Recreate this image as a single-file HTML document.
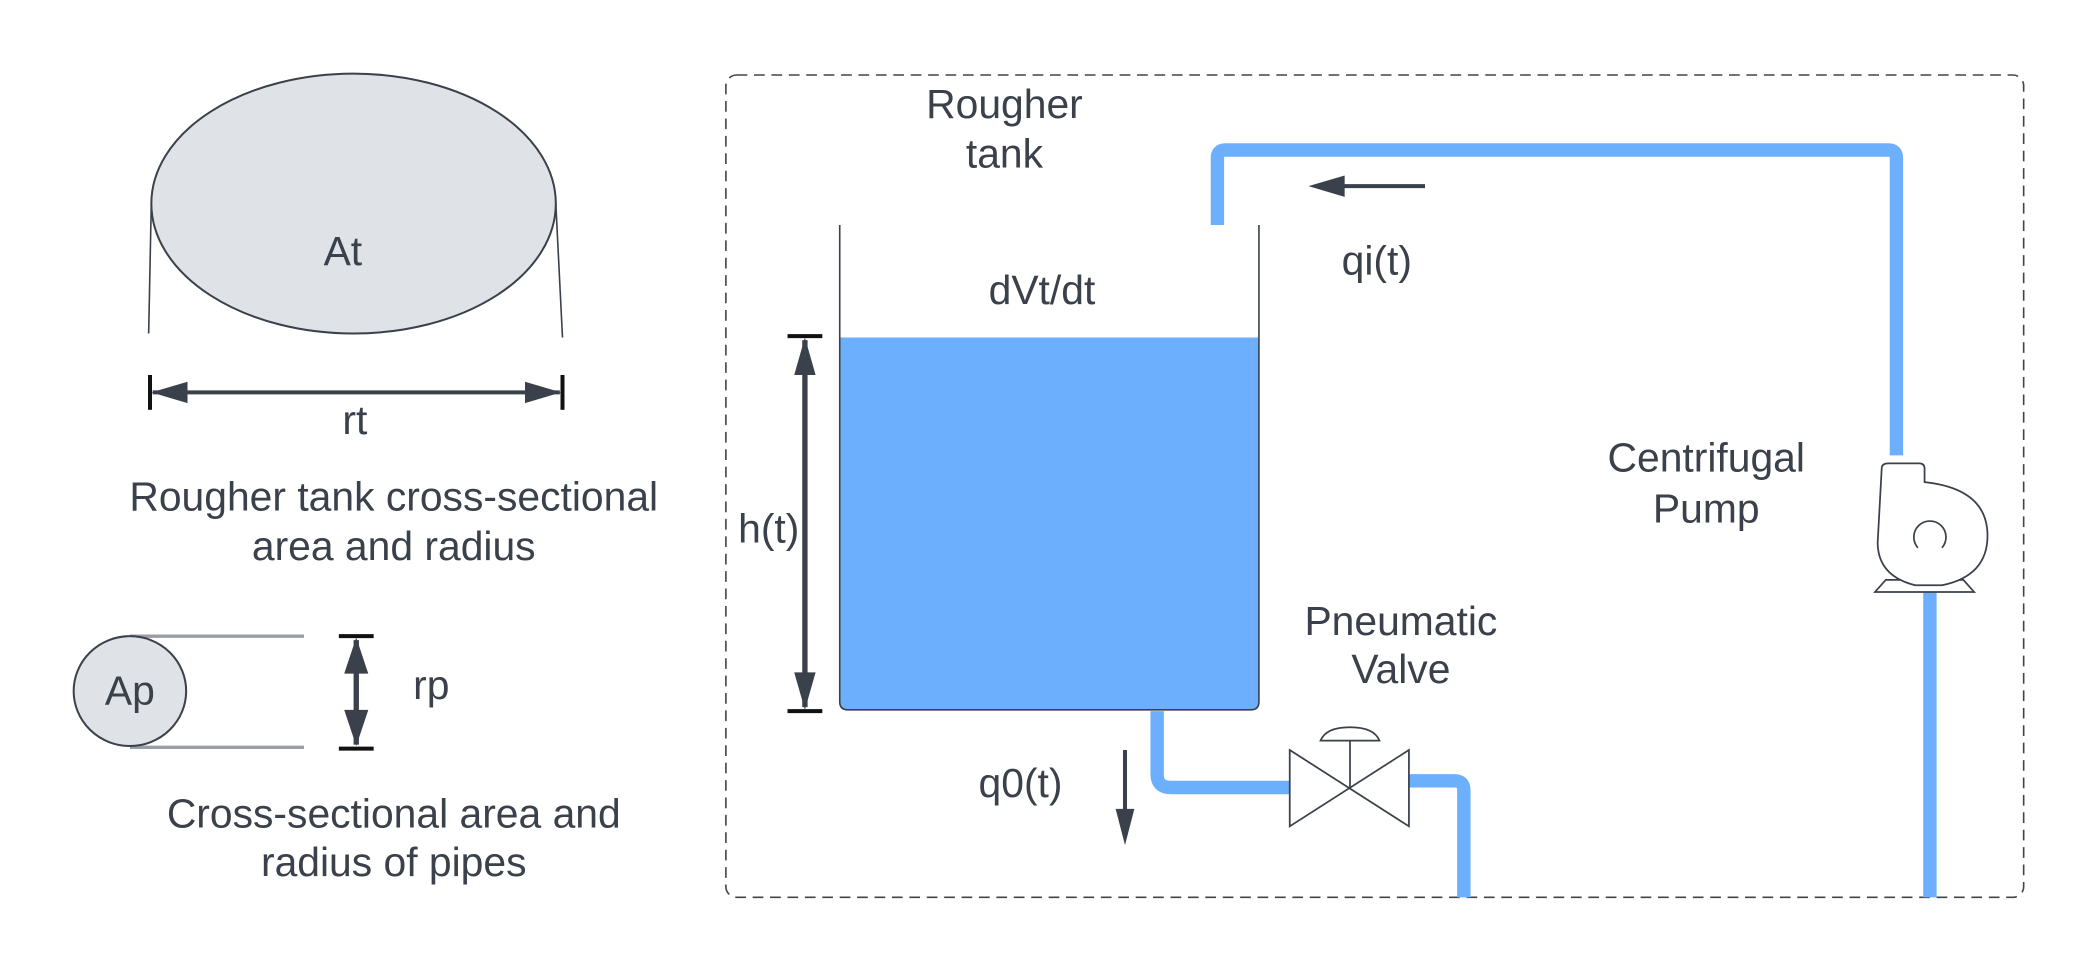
<!DOCTYPE html>
<html><head><meta charset="utf-8"><style>html,body{margin:0;padding:0;background:#fff}svg{display:block}text{font-family:"Liberation Sans",sans-serif;fill:#3a414a;font-size:30.5px}</style></head>
<body>
<svg width="2100" height="975" viewBox="0 0 1568 728" preserveAspectRatio="none">
<g>
<line x1="113" y1="150" x2="111" y2="249" stroke="#3a414a" stroke-width="1.2"/>
<line x1="415" y1="152" x2="420" y2="252" stroke="#3a414a" stroke-width="1.2"/>
<ellipse cx="264" cy="152" rx="151" ry="97" fill="#dfe2e7" stroke="#3a414a" stroke-width="1.5"/>
<text x="256" y="198" text-anchor="middle">At</text>
<line x1="112" y1="280" x2="112" y2="306" stroke="#111" stroke-width="3"/>
<line x1="420" y1="280" x2="420" y2="306" stroke="#111" stroke-width="3"/>
<line x1="114" y1="293" x2="418" y2="293" stroke="#3a414a" stroke-width="3"/>
<path d="M113,293 L140,285 L140,301z M419,293 L392,285 L392,301z" fill="#3a414a"/>
<text x="265" y="324" text-anchor="middle">rt</text>
<text x="294" y="381" text-anchor="middle">Rougher tank cross-sectional</text>
<text x="294" y="418" text-anchor="middle">area and radius</text>
</g>
<g>
<line x1="97" y1="475" x2="227" y2="475" stroke="#9a9da3" stroke-width="2.5"/>
<line x1="97" y1="558" x2="227" y2="558" stroke="#9a9da3" stroke-width="2.5"/>
<ellipse cx="97" cy="516" rx="42" ry="41" fill="#dfe2e7" stroke="#3a414a" stroke-width="1.5"/>
<text x="97" y="526" text-anchor="middle">Ap</text>
<line x1="253" y1="475" x2="279" y2="475" stroke="#111" stroke-width="3"/>
<line x1="253" y1="559" x2="279" y2="559" stroke="#111" stroke-width="3"/>
<line x1="266" y1="478" x2="266" y2="556" stroke="#3a414a" stroke-width="4"/>
<path d="M266,476 L257,503 L275,503z M266,557 L257,530 L275,530z" fill="#3a414a"/>
<text x="322" y="522" text-anchor="middle">rp</text>
<text x="294" y="618" text-anchor="middle">Cross-sectional area and</text>
<text x="294" y="654" text-anchor="middle">radius of pipes</text>
</g>
<rect x="542" y="56" width="969" height="614" rx="8" fill="none" stroke="#444" stroke-width="1.2" stroke-dasharray="8,5"/>
<text x="750" y="88" text-anchor="middle">Rougher</text>
<text x="750" y="125" text-anchor="middle">tank</text>
<path d="M909,168 L909,118 Q909,112 915,112 L1410,112 Q1416,112 1416,118 L1416,340" fill="none" stroke="#6cb0fd" stroke-width="10"/>
<line x1="1441" y1="440" x2="1441" y2="670" stroke="#6cb0fd" stroke-width="10"/>
<path d="M864,531 L864,578 Q864,588 874,588 L965,588" fill="none" stroke="#6cb0fd" stroke-width="10"/>
<path d="M1052,583 L1086,583 Q1093,583 1093,590 L1093,670" fill="none" stroke="#6cb0fd" stroke-width="10"/>
<path d="M627,252 L940,252 L940,524 Q940,530 934,530 L633,530 Q627,530 627,524z" fill="#6cb0fd"/>
<path d="M627,168 L627,524 Q627,530 633,530 L934,530 Q940,530 940,524 L940,168" fill="none" stroke="#3a414a" stroke-width="1.2"/>
<text x="778" y="227" text-anchor="middle">dVt/dt</text>
<line x1="588" y1="251" x2="614" y2="251" stroke="#111" stroke-width="3"/>
<line x1="588" y1="531" x2="614" y2="531" stroke="#111" stroke-width="3"/>
<line x1="601" y1="254" x2="601" y2="528" stroke="#3a414a" stroke-width="4"/>
<path d="M601,252 L593,280 L609,280z M601,530 L593,502 L609,502z" fill="#3a414a"/>
<text x="574" y="405" text-anchor="middle">h(t)</text>
<line x1="1064" y1="139" x2="1000" y2="139" stroke="#3a414a" stroke-width="3"/>
<path d="M977,139 L1004,131 L1004,147z" fill="#3a414a"/>
<text x="1028" y="205" text-anchor="middle">qi(t)</text>
<g fill="#fff" stroke="#3a414a" stroke-width="1.3">
<path d="M1408,433 L1400,442 L1474,442 L1466,433z"/>
<path d="M1405,350 Q1405,346 1410,346 L1433,346 Q1437,346 1437,350 L1437,360 Q1484,365 1484,400 Q1484,430 1450,437 L1430,437 Q1402,430 1402,405z"/>
<path d="M1432,409 A12,12 0 1 1 1450,409" fill="none"/>
</g>
<text x="1274" y="352" text-anchor="middle">Centrifugal</text>
<text x="1274" y="390" text-anchor="middle">Pump</text>
<g fill="#fff" stroke="#3a414a" stroke-width="1.3">
<path d="M963,560 L963,617 L1052,560 L1052,617z"/>
<line x1="1008" y1="553" x2="1008" y2="588"/>
<path d="M986,553 Q990,543 1008,543 Q1026,543 1030,553z"/>
</g>
<text x="1046" y="474" text-anchor="middle">Pneumatic</text>
<text x="1046" y="510" text-anchor="middle">Valve</text>
<line x1="840" y1="560" x2="840" y2="608" stroke="#3a414a" stroke-width="3"/>
<path d="M840,631 L833,604 L847,604z" fill="#3a414a"/>
<text x="762" y="595" text-anchor="middle">q0(t)</text>
</svg>
</body></html>
